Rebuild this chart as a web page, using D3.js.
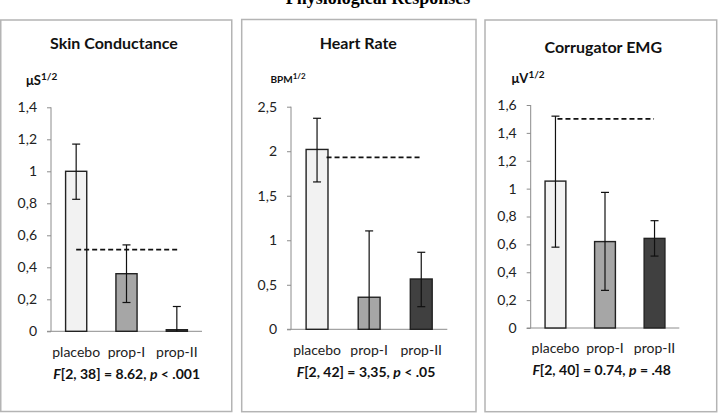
<!DOCTYPE html>
<html><head><meta charset="utf-8">
<script src="https://cdn.jsdelivr.net/npm/d3@7"></script>
<style>
body{margin:0;background:#fff;}
svg{display:block;}
text{font-family:Lato,"Open Sans",sans-serif;}
</style></head>
<body>
<svg id="c" width="723" height="413"></svg>
<script>
const categories = ["placebo", "prop-I", "prop-II"];
const barColors = ["#f2f2f2", "#a6a6a6", "#404040"];

const panelTitles = ["Skin Conductance", "Heart Rate", "Corrugator EMG"];
const unitBase = ["μS", "BPM", "μV"];
const statText = [
  ["F", "[2, 38] = 8.62, ", "p", " < .001"],
  ["F", "[2, 42] = 3,35, ", "p", " < .05"],
  ["F", "[2, 40] = 0.74, ", "p", " = .48"]
];

const scMeans = [1.00, 0.36, 0.01];
const scUpper = [1.17, 0.54, 0.155];
const scLower = [0.825, 0.18, 0];
const scDash = 0.51;
const scTicks = [0, 0.2, 0.4, 0.6, 0.8, 1, 1.2, 1.4];

const hrMeans = [2.02, 0.36, 0.565];
const hrUpper = [2.37, 1.105, 0.865];
const hrLower = [1.655, 0, 0.254];
const hrDash = 1.93;
const hrTicks = [0, 0.5, 1, 1.5, 2, 2.5];

const emgMeans = [1.054, 0.62, 0.643];
const emgUpper = [1.52, 0.973, 0.77];
const emgLower = [0.58, 0.27, 0.516];
const emgDash = 1.50;
const emgTicks = [0, 0.2, 0.4, 0.6, 0.8, 1, 1.2, 1.4, 1.6];

const panelData = [
  {means: scMeans, upper: scUpper, lower: scLower, dash: scDash, ticks: scTicks},
  {means: hrMeans, upper: hrUpper, lower: hrLower, dash: hrDash, ticks: hrTicks},
  {means: emgMeans, upper: emgUpper, lower: emgLower, dash: emgDash, ticks: emgTicks}
];

// layout (pixels)
const layout = [
  {box:[0.75,20,231,391.5], titleX:114, titleY:48.5, unitX:26, unitY:85, unitSize:13, supSize:10,
   x0:51, x1:202, y0:331.3, y1:107.3, catY:357, statX:126.7, statY:378.5, dashA:0, dashB:1.5},
  {box:[241.7,19.5,234.3,392.2], titleX:358.3, titleY:48.5, unitX:270.5, unitY:83, unitSize:10, supSize:8,
   x0:291, x1:447.3, y0:329.3, y1:106.7, catY:354.5, statX:366, statY:376.5, dashA:9.5, dashB:1},
  {box:[485,20,231.7,391.7], titleX:603.3, titleY:53, unitX:511.5, unitY:83, unitSize:13, supSize:10,
   x0:530.7, x1:679.3, y0:328, y1:105, catY:353, statX:601.7, statY:374.5, dashA:2, dashB:-0.5}
];

const svg = d3.select("#c");

svg.append("text")
  .attr("x", 378).attr("y", 4)
  .attr("text-anchor", "middle")
  .style("font-family", "'Liberation Serif','Times New Roman',serif")
  .style("font-weight", "bold").style("font-size", "18px")
  .text("Physiological Responses");

panelData.forEach((d, i) => {
  const L = layout[i];
  const g = svg.append("g");
  g.append("rect")
    .attr("x", L.box[0]).attr("y", L.box[1])
    .attr("width", L.box[2]).attr("height", L.box[3])
    .attr("fill", "#fff").attr("stroke", "#b4b4b4").attr("stroke-width", 1.5);

  g.append("text")
    .attr("x", L.titleX).attr("y", L.titleY)
    .attr("text-anchor", "middle")
    .style("font-weight", "bold").style("font-size", "16px").attr("fill", "#111")
    .text(panelTitles[i]);

  const ut = g.append("text")
    .attr("x", L.unitX).attr("y", L.unitY)
    .style("font-weight", "bold").style("font-size", L.unitSize + "px").attr("fill", "#111");
  ut.append("tspan").text(unitBase[i]);
  ut.append("tspan").attr("dy", -L.unitSize * 0.38).style("font-size", L.supSize + "px").text("1/2");

  const yMax = d.ticks[d.ticks.length - 1];
  const y = d3.scaleLinear().domain([0, yMax]).range([L.y0, L.y1]);
  const x = d3.scaleBand().domain(categories).range([L.x0, L.x1]).paddingInner(0.58).paddingOuter(0.29);

  const yAxis = d3.axisLeft(y).tickValues(d.ticks).tickSize(4).tickPadding(10)
    .tickFormat(v => String(+v.toFixed(2)).replace(".", ","));
  const ya = g.append("g").attr("transform", `translate(${L.x0},0)`).call(yAxis);
  ya.select(".domain").attr("stroke", "#8c8c8c").attr("d", `M0,${L.y1}V${L.y0}`);
  ya.selectAll(".tick line").attr("stroke", "#8c8c8c");
  ya.selectAll(".tick text").style("font-family", "Lato,sans-serif").style("font-size", "14px").attr("fill", "#222");

  // horizontal baseline
  g.append("line").attr("x1", L.x0 - 4).attr("x2", L.x1)
    .attr("y1", y(0)).attr("y2", y(0)).attr("stroke", "#8c8c8c").attr("stroke-width", 1);

  // bars
  g.selectAll(".bar").data(categories).enter().append("rect")
    .attr("x", c => x(c)).attr("width", x.bandwidth())
    .attr("y", (c, k) => y(d.means[k]))
    .attr("height", (c, k) => y(0) - y(d.means[k]))
    .attr("fill", (c, k) => barColors[k])
    .attr("stroke", "#222").attr("stroke-width", 1.4);

  // error bars
  categories.forEach((c, k) => {
    const cx = x(c) + x.bandwidth() / 2;
    g.append("line").attr("x1", cx).attr("x2", cx)
      .attr("y1", y(d.upper[k])).attr("y2", y(d.lower[k]))
      .attr("stroke", "#111").attr("stroke-width", 1.2);
    g.append("line").attr("x1", cx - 4).attr("x2", cx + 4)
      .attr("y1", y(d.upper[k])).attr("y2", y(d.upper[k]))
      .attr("stroke", "#111").attr("stroke-width", 1.2);
    if (d.lower[k] > 0) {
      g.append("line").attr("x1", cx - 4).attr("x2", cx + 4)
        .attr("y1", y(d.lower[k])).attr("y2", y(d.lower[k]))
        .attr("stroke", "#111").attr("stroke-width", 1.2);
    }
  });

  // dashed reference line
  const c0 = x(categories[0]) + x.bandwidth() / 2;
  const c2 = x(categories[2]) + x.bandwidth() / 2;
  g.append("line").attr("x1", c0 + L.dashA).attr("x2", c2 + L.dashB)
    .attr("y1", y(d.dash)).attr("y2", y(d.dash))
    .attr("stroke", "#111").attr("stroke-width", 1.8).attr("stroke-dasharray", "5,3");

  // category labels
  g.selectAll(".cat").data(categories).enter().append("text")
    .attr("x", c => x(c) + x.bandwidth() / 2).attr("y", L.catY)
    .attr("text-anchor", "middle")
    .style("font-size", "14px").attr("fill", "#222")
    .text(c => c);

  // stats text
  const st = g.append("text").attr("x", L.statX).attr("y", L.statY)
    .attr("text-anchor", "middle").style("font-weight", "bold").style("font-size", "14px").attr("fill", "#111");
  statText[i].forEach((s, j) => {
    st.append("tspan").style("font-style", j % 2 === 0 ? "italic" : "normal").text(s);
  });
});
</script>
</body></html>
